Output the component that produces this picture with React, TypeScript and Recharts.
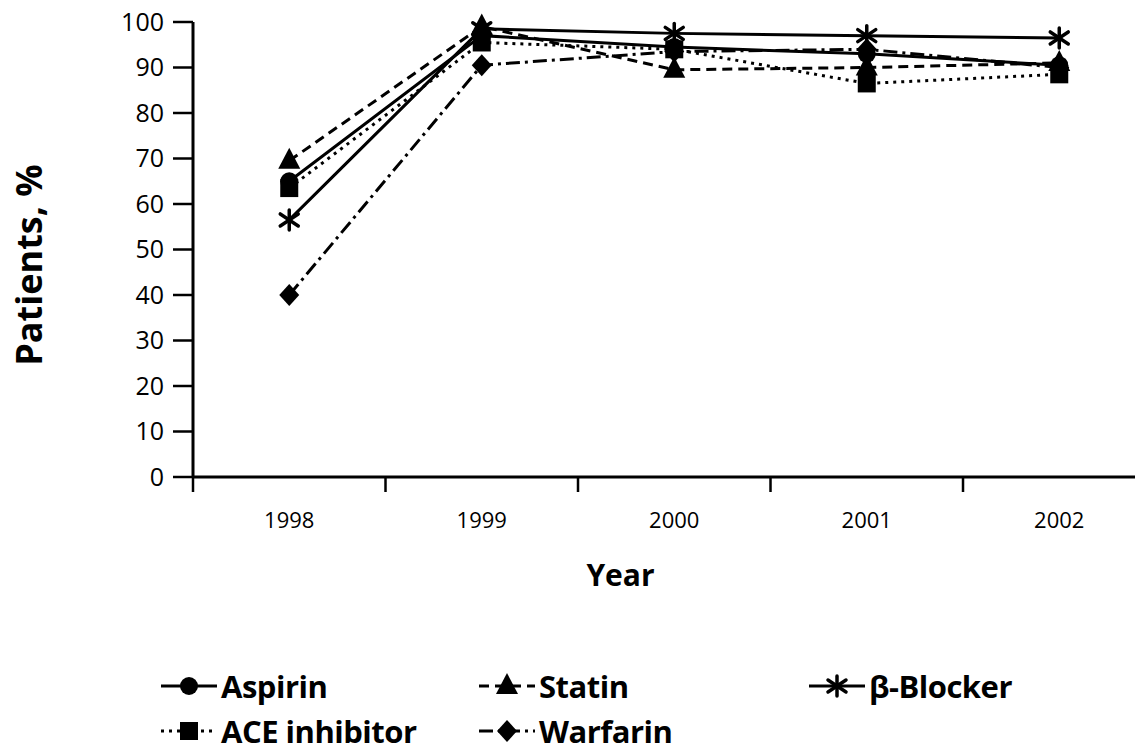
import React from 'react';
import { LineChart, Line, XAxis, YAxis, Legend } from 'recharts';

const years = [1998, 1999, 2000, 2001, 2002];
const aspirin = [65, 97, 94.5, 93, 90.5];
const statin = [69.5, 99, 89.5, 90, 91];
const betaBlocker = [56.5, 98.5, 97.5, 97, 96.5];
const aceInhibitor = [63.5, 95.5, 94, 86.5, 88.5];
const warfarin = [40, 90.5, 93.5, 94, 90];

const yTicks = [0, 10, 20, 30, 40, 50, 60, 70, 80, 90, 100];
const boundaryTicks = [1997.5, 1998.5, 1999.5, 2000.5, 2001.5];

const data = years.map((year, i) => ({
  year,
  aspirin: aspirin[i],
  statin: statin[i],
  betaBlocker: betaBlocker[i],
  aceInhibitor: aceInhibitor[i],
  warfarin: warfarin[i],
}));

const INK = '#000';
const FONT = '"Open Sans", "Noto Sans", sans-serif';

type Shape = 'circle' | 'triangle' | 'asterisk' | 'square' | 'diamond';

function Marker({ shape, cx, cy }: { shape: Shape; cx: number; cy: number }) {
  switch (shape) {
    case 'circle':
      return <circle cx={cx} cy={cy} r={9} fill={INK} />;
    case 'triangle':
      return <polygon points={`${cx},${cy - 13} ${cx + 11},${cy + 8} ${cx - 11},${cy + 8}`} fill={INK} />;
    case 'square':
      return <rect x={cx - 9} y={cy - 9} width={18} height={18} fill={INK} />;
    case 'diamond':
      return <polygon points={`${cx},${cy - 11} ${cx + 10},${cy} ${cx},${cy + 11} ${cx - 10},${cy}`} fill={INK} />;
    case 'asterisk':
      return (
        <g stroke={INK} strokeWidth={3.5} strokeLinecap="round">
          <line x1={cx} y1={cy - 10} x2={cx} y2={cy + 10} />
          <line x1={cx - 9} y1={cy - 6} x2={cx + 9} y2={cy + 6} />
          <line x1={cx - 9} y1={cy + 6} x2={cx + 9} y2={cy - 6} />
        </g>
      );
  }
}

const series = [
  { key: 'warfarin', name: 'Warfarin', shape: 'diamond' as Shape, dash: '14 5 3 5' },
  { key: 'aceInhibitor', name: 'ACE inhibitor', shape: 'square' as Shape, dash: '3 5' },
  { key: 'aspirin', name: 'Aspirin', shape: 'circle' as Shape, dash: undefined },
  { key: 'statin', name: 'Statin', shape: 'triangle' as Shape, dash: '10 6' },
  { key: 'betaBlocker', name: 'β-Blocker', shape: 'asterisk' as Shape, dash: undefined },
];

const legendOrder = [
  { key: 'aspirin', left: 160, top: 19 },
  { key: 'statin', left: 478, top: 19 },
  { key: 'betaBlocker', left: 808, top: 19 },
  { key: 'aceInhibitor', left: 160, top: 64 },
  { key: 'warfarin', left: 478, top: 64 },
];

function LegendContent() {
  return (
    <div style={{ position: 'relative', width: 1143, height: 80 }}>
      {legendOrder.map((item) => {
        const s = series.find((x) => x.key === item.key)!;
        return (
          <div
            key={s.key}
            style={{ position: 'absolute', left: item.left, top: item.top - 16, height: 32, display: 'flex', alignItems: 'center' }}
          >
            <svg width={58} height={32}>
              <line x1={1} y1={16} x2={57} y2={16} stroke={INK} strokeWidth={3} strokeDasharray={s.dash} />
              <Marker shape={s.shape} cx={29} cy={16} />
            </svg>
            <span
              style={{ fontFamily: FONT, fontWeight: 700, fontSize: 31, lineHeight: 1, color: INK, marginLeft: 3, letterSpacing: -0.5 }}
            >
              {s.name}
            </span>
          </div>
        );
      })}
    </div>
  );
}

export default function App() {
  return (
    <div style={{ fontFamily: FONT, margin: '-8px -8px 0 -8px', width: 1143, height: 747 }}>
      <LineChart width={1143} height={747} data={data} margin={{ top: 22, right: 0, bottom: 139, left: 0 }}>
        <XAxis
          xAxisId="axis"
          type="number"
          dataKey="year"
          domain={[1997.5, 2002.435]}
          allowDataOverflow
          ticks={boundaryTicks}
          tick={() => <g />}
          tickSize={15}
          height={1}
          axisLine={{ stroke: INK, strokeWidth: 3 }}
          tickLine={{ stroke: INK, strokeWidth: 2.5 }}
        />
        <XAxis
          xAxisId="labels"
          type="number"
          dataKey="year"
          domain={[1997.5, 2002.435]}
          allowDataOverflow
          ticks={years}
          height={130}
          axisLine={false}
          tickLine={false}
          tickMargin={28}
          tick={{ fill: INK, fontSize: 22, fontFamily: FONT }}
          label={{
            content: ({ viewBox }: any) => (
              <text
                x={viewBox.x + viewBox.width * 0.45}
                y={viewBox.y + 108}
                textAnchor="middle"
                fontFamily={FONT}
                fontWeight={700}
                fontSize={30}
                fill={INK}
              >
                Year
              </text>
            ),
          }}
        />
        <YAxis
          domain={[0, 100]}
          ticks={yTicks}
          width={193}
          tickSize={20}
          tickMargin={9}
          axisLine={{ stroke: INK, strokeWidth: 3 }}
          tickLine={{ stroke: INK, strokeWidth: 2.5 }}
          tick={{ fill: INK, fontSize: 25, fontFamily: FONT }}
          label={{
            content: () => (
              <text
                x={42}
                y={265}
                transform="rotate(-90, 42, 265)"
                textAnchor="middle"
                fontFamily={FONT}
                fontWeight={700}
                fontSize={36}
                fill={INK}
              >
                Patients, %
              </text>
            ),
          }}
        />
        <Legend
          layout="horizontal"
          verticalAlign="middle"
          align="center"
          wrapperStyle={{ top: 667, left: 0, width: 1143, height: 80 }}
          content={() => <LegendContent />}
        />
        {series.map((s) => (
          <Line
            key={s.key}
            xAxisId="axis"
            dataKey={s.key}
            name={s.name}
            type="linear"
            stroke={INK}
            strokeWidth={3}
            strokeDasharray={s.dash}
            isAnimationActive={false}
            dot={(p: any) => <Marker key={`${s.key}-${p.index}`} shape={s.shape} cx={p.cx} cy={p.cy} />}
            activeDot={false}
          />
        ))}
      </LineChart>
    </div>
  );
}
